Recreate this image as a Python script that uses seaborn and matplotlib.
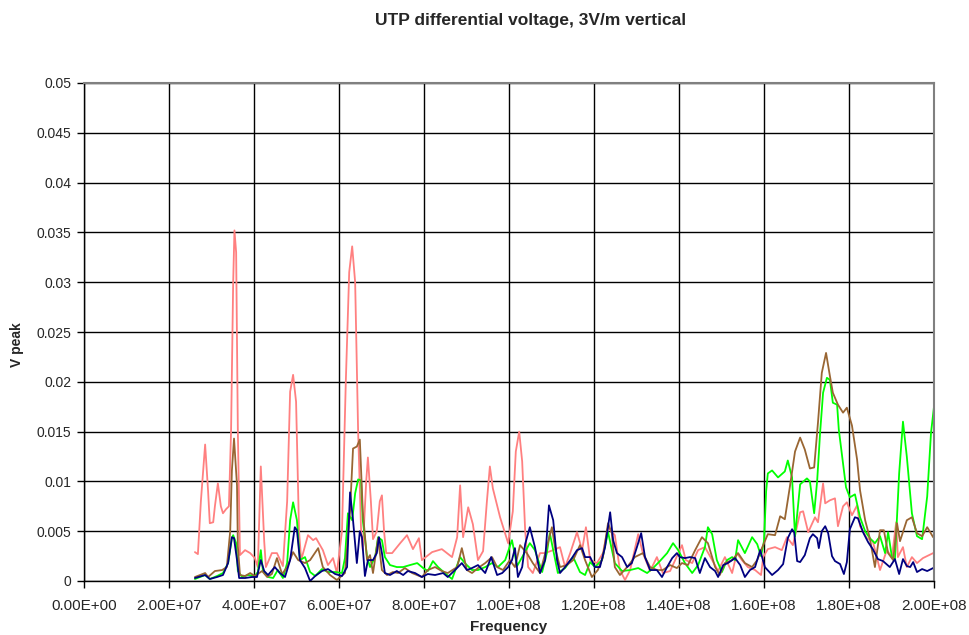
import numpy as np
import pandas as pd
import matplotlib
matplotlib.use("Agg")
import matplotlib.pyplot as plt
import seaborn as sns
from matplotlib.ticker import FuncFormatter, MultipleLocator

# Values (frequency in MHz, voltage in mV)
salmon_f = [26.1, 26.8, 27.5, 28.5, 29.2, 29.6, 30.4, 30.8, 31.5, 32.2, 32.7, 33.4, 34.1, 34.6, 35.1, 35.4, 35.8, 36.2, 36.7,
            37.9, 39.1, 40.2, 40.9, 41.6, 42.4, 42.8, 44.2, 45.4, 46.8, 47.8, 48.5, 49.2, 49.9, 50.6, 51.1, 52.7, 53.9, 54.6,
            56.2, 57.4, 58.6, 59.5, 60.7, 61.6, 62.4, 63.1, 63.8, 64.5, 65.2, 65.6, 66.4, 66.8, 67.5, 68.0, 68.9, 69.6, 70.1,
            70.6, 71.1, 72.5, 74.4, 76.0, 77.4, 78.8, 79.5, 81.9, 84.2, 86.6, 87.8, 88.5, 89.2, 90.4, 91.5, 92.7, 93.9, 94.8,
            95.5, 96.2, 97.9, 99.8, 100.9, 101.6, 102.4, 103.1, 103.8, 104.5, 105.6, 107.3, 108.5, 110.4, 112.0, 113.2, 114.4,
            116.0, 117.2, 118.1, 119.1, 120.7, 122.1, 123.3, 124.9, 126.1, 127.3, 128.5, 130.4, 131.5, 133.2, 134.8, 136.2,
            137.9, 139.1, 140.7, 141.6, 143.1, 144.5, 146.1, 147.8, 149.2, 150.8, 152.5, 153.6, 154.8, 156.2, 157.9, 159.3,
            159.8, 160.9, 162.6, 164.2, 165.4, 166.8, 168.5, 169.2, 170.4, 172.0, 172.7, 173.9, 174.4, 175.5, 176.7, 177.4,
            178.6, 179.5, 180.7, 181.9, 182.6, 184.2, 185.6, 187.3, 188.9, 190.1, 191.1, 191.5, 192.7, 193.6, 194.8, 196.0,
            197.4, 199.8]
salmon_v = [2.9, 2.7, 8.0, 13.7, 9.0, 5.8, 5.9, 7.5, 9.8, 7.5, 6.8, 7.2, 7.5, 15.0, 30.0, 35.2, 33.0, 15.0, 2.6,
            3.1, 2.8, 2.3, 1.4, 11.5, 4.0, 1.4, 2.8, 2.8, 1.5, 8.0, 19.0, 20.7, 18.0, 5.0, 2.1, 4.6, 4.1, 4.3,
            3.1, 1.6, 2.3, 0.8, 5.0, 20.0, 31.0, 33.6, 30.0, 15.0, 5.0, 3.1, 10.0, 12.4, 8.0, 4.2, 5.0, 8.0, 8.6,
            5.0, 2.8, 2.8, 3.8, 4.6, 3.2, 4.3, 2.1, 2.9, 3.2, 2.4, 4.4, 9.6, 4.4, 7.4, 5.7, 2.1, 3.0, 8.0,
            11.5, 9.3, 6.4, 3.8, 7.0, 13.0, 15.0, 12.0, 5.1, 1.4, 0.8, 2.8, 2.8, 3.1, 3.4, 1.4, 2.8,
            4.9, 3.1, 5.4, 2.1, 1.8, 2.8, 5.4, 4.6, 1.1, 0.1, 1.1, 4.7, 2.8, 1.0, 2.4, 0.8,
            1.0, 2.1, 3.6, 2.1, 1.8, 3.1, 3.4, 2.1, 1.0, 2.4, 0.8, 2.8, 2.1, 1.4, 1.1, 0.6,
            2.4, 3.2, 3.4, 3.1, 4.4, 3.6, 6.9, 7.0, 4.9, 6.4, 5.9, 9.8, 7.8, 8.1, 8.3, 5.5,
            7.5, 7.9, 6.6, 7.6, 5.5, 4.3, 4.0, 1.1, 3.1, 2.4, 5.9, 2.4, 3.4, 1.4, 2.4, 1.8,
            2.3, 2.8]

brown_f = [26.1, 28.5, 29.2, 30.8, 32.5, 33.6, 34.4, 34.8, 35.3, 36.0, 36.2, 36.7, 37.9, 39.1, 40.2, 41.9, 43.1, 44.2,
           45.4, 46.6, 47.8, 49.2, 50.4, 52.0, 53.2, 55.1, 56.2, 57.9, 59.5, 61.4, 62.6, 63.3, 64.2, 64.9, 65.6, 66.6,
           67.3, 68.0, 69.2, 70.1, 71.3, 72.7, 73.9, 75.5, 77.2, 79.5, 80.9, 82.6, 84.2, 85.6, 87.8, 88.9, 90.1, 91.3,
           92.7, 94.4, 96.0, 97.2, 98.6, 100.2, 101.4, 102.6, 104.2, 105.6, 107.3, 108.9, 110.1, 110.8, 112.0, 113.6,
           115.1, 116.7, 117.9, 119.5, 120.9, 122.1, 123.3, 124.2, 124.9, 126.1, 127.8, 129.6, 131.5, 133.2, 134.8,
           136.2, 137.9, 139.5, 140.7, 142.1, 143.8, 145.4, 146.8, 148.5, 149.6, 150.8, 152.5, 153.9, 155.5, 157.2,
           158.4, 159.5, 160.9, 162.6, 163.8, 164.9, 166.1, 167.3, 168.5, 169.6, 170.8, 171.8, 172.7, 173.6, 174.6,
           175.5, 176.2, 177.4, 178.6, 179.5, 180.7, 181.9, 182.6, 183.8, 184.9, 186.1, 187.3, 188.2, 189.2, 190.4,
           191.3, 192.0, 193.6, 194.8, 196.0, 197.2, 198.4, 199.8]
brown_v = [0.4, 0.8, 0.4, 1.0, 1.1, 1.4, 5.0, 11.1, 14.3, 9.6, 3.5, 0.6, 0.5, 0.8, 0.5, 1.0, 0.4, 0.7,
           2.3, 0.7, 1.4, 2.9, 2.1, 1.8, 2.1, 3.3, 1.4, 0.6, 0.1, 0.8, 7.0, 13.3, 13.5, 14.2, 7.0, 2.1,
           2.6, 0.8, 4.3, 1.1, 0.6, 0.9, 0.8, 1.3, 0.8, 0.4, 1.1, 1.4, 1.0, 0.8, 1.4, 3.3, 1.1, 0.8,
           1.3, 1.8, 2.4, 1.4, 1.1, 2.1, 1.4, 3.6, 2.8, 1.8, 0.8, 3.4, 5.4, 3.4, 1.4, 1.6,
           2.1, 3.6, 2.1, 0.4, 1.1, 2.4, 5.8, 4.8, 1.4, 0.6, 1.4, 2.4, 2.8, 1.4, 1.1,
           1.1, 1.6, 1.3, 1.8, 1.6, 3.1, 4.4, 3.8, 1.4, 0.6, 1.8, 2.1, 2.8, 1.8, 1.4,
           2.1, 3.3, 4.7, 4.6, 6.5, 6.2, 9.5, 13.0, 14.4, 13.2, 11.3, 11.4, 15.9, 20.9, 22.9,
           20.6, 18.9, 17.7, 16.9, 17.4, 15.6, 12.2, 9.1, 6.1, 4.3, 1.4, 5.1, 5.1, 2.8, 2.1,
           5.8, 4.0, 6.1, 6.4, 4.8, 4.5, 5.4, 4.4]

green_f = [26.1, 28.5, 29.6, 31.3, 32.7, 33.9, 34.8, 35.1, 35.8, 36.2, 37.2, 38.6, 40.2, 40.9, 41.6, 42.1, 43.3, 44.5,
           45.6, 46.8, 47.8, 48.5, 49.2, 50.1, 50.8, 52.0, 53.2, 54.4, 56.0, 57.4, 59.1, 60.7, 61.4, 62.1, 63.1, 63.8,
           64.5, 65.2, 65.6, 66.6, 67.3, 68.5, 69.2, 70.1, 70.8, 72.0, 73.6, 75.1, 76.7, 78.4, 79.8, 80.9, 82.1, 83.3,
           84.9, 86.6, 88.5, 89.6, 91.3, 92.7, 94.4, 96.0, 97.4, 99.1, 100.7, 101.9, 103.1, 104.9, 106.1, 107.8, 108.9,
           109.6, 110.4, 111.5, 113.2, 115.1, 116.7, 117.9, 119.1, 120.2, 121.9, 123.3, 124.9, 126.6, 128.5, 130.4,
           132.5, 133.9, 135.5, 137.2, 138.6, 139.8, 141.4, 143.1, 144.5, 146.1, 146.8, 147.8, 148.9, 150.1, 151.3,
           152.5, 153.2, 153.9, 155.5, 157.2, 158.4, 159.3, 160.0, 160.5, 160.9, 161.9, 163.3, 164.9, 165.6, 166.6,
           167.3, 168.0, 168.5, 170.1, 170.8, 171.8, 172.5, 173.2, 173.9, 174.8, 175.5, 176.2, 177.2, 177.6, 178.4,
           179.3, 180.2, 181.4, 182.6, 183.8, 184.9, 186.1, 187.3, 188.5, 189.2, 190.1, 190.8, 191.8, 192.7, 193.6,
           194.8, 196.0, 197.2, 198.4, 199.3, 200.0]
green_v = [0.2, 0.6, 0.2, 0.5, 0.8, 1.8, 4.3, 4.6, 3.8, 1.0, 0.4, 0.6, 0.5, 0.9, 3.1, 1.0, 0.4, 0.3,
           1.1, 0.3, 1.8, 6.1, 7.9, 6.1, 2.1, 2.4, 0.9, 0.5, 1.2, 0.9, 0.9, 0.8, 2.3, 6.8, 6.1, 8.8,
           10.2, 10.1, 6.1, 2.4, 1.4, 2.4, 4.4, 4.1, 2.4, 1.6, 1.4, 1.4, 1.6, 1.8, 1.3, 1.0, 2.0, 1.4,
           0.8, 0.2, 2.4, 1.8, 1.1, 1.1, 1.4, 1.8, 1.4, 2.1, 4.1, 1.5, 2.4, 3.8, 3.1, 0.9, 2.8,
           4.8, 3.1, 0.8, 1.3, 2.4, 0.9, 0.6, 1.9, 1.4, 2.1, 4.9, 1.8, 1.0, 1.1, 1.3,
           0.8, 1.3, 2.0, 2.8, 3.8, 3.1, 1.8, 0.8, 1.6, 3.4, 5.4, 4.7, 2.1, 0.9, 2.1,
           2.4, 2.1, 4.1, 2.8, 4.4, 3.7, 2.5, 4.0, 9.0, 10.8, 11.1, 10.4, 11.0, 12.1, 10.4,
           4.5, 7.5, 9.7, 10.3, 10.0, 6.8, 10.0, 14.9, 18.9, 20.4, 20.2, 17.9, 17.7, 15.2, 12.5,
           9.4, 8.4, 8.7, 6.4, 5.0, 4.3, 3.8, 4.5, 2.8, 4.9, 2.4, 2.1, 10.8, 16.0, 12.5,
           6.8, 4.5, 4.2, 8.5, 14.9, 17.5]

navy_f = [26.1, 28.5, 29.6, 31.3, 32.7, 33.9, 34.8, 35.3, 36.0, 36.5, 37.9, 39.5, 40.7, 41.6, 42.4, 43.3, 44.9, 46.1,
          47.3, 48.5, 49.6, 50.1, 50.8, 52.0, 53.2, 54.4, 56.0, 57.4, 59.1, 60.7, 61.9, 62.6, 63.3, 64.2, 64.9, 65.4,
          66.1, 66.8, 68.0, 68.9, 69.4, 70.1, 70.8, 72.0, 73.6, 75.1, 76.2, 77.9, 79.5, 80.9, 82.6, 84.5, 85.6, 87.3,
          88.9, 90.1, 91.3, 92.7, 94.4, 95.8, 97.2, 98.4, 99.8, 100.7, 101.4, 102.1, 103.1, 103.8, 104.9, 106.1, 107.3,
          108.5, 109.4, 110.4, 111.3, 112.0, 113.2, 114.8, 116.0, 117.2, 117.9, 119.1, 120.2, 121.4, 122.6, 123.8,
          124.5, 125.4, 126.6, 127.8, 128.9, 130.1, 131.1, 132.0, 133.2, 134.8, 136.0, 137.2, 138.4, 139.5, 140.2,
          141.4, 142.6, 143.8, 144.9, 146.1, 147.3, 148.5, 149.2, 150.4, 151.5, 153.2, 154.4, 155.5, 156.7, 157.9,
          159.1, 160.2, 161.9, 163.3, 164.5, 165.6, 166.6, 167.1, 167.8, 168.5, 169.6, 170.8, 171.5, 172.5, 172.9,
          173.6, 174.4, 175.1, 176.0, 176.7, 177.9, 178.8, 179.5, 180.2, 181.4, 182.1, 183.3, 184.5, 185.6, 186.8,
          188.0, 189.6, 190.8, 191.8, 192.7, 193.6, 194.4, 195.1, 196.0, 197.2, 198.4, 199.8]
navy_v = [0.3, 0.6, 0.2, 0.4, 0.6, 1.8, 4.4, 4.3, 2.1, 0.3, 0.3, 0.4, 0.4, 2.1, 1.0, 0.6, 1.4, 0.8,
          0.4, 2.1, 5.4, 5.1, 2.1, 1.3, 0.0, 0.5, 1.0, 1.2, 0.7, 0.5, 1.4, 8.9, 6.1, 1.8, 5.0, 4.4,
          0.5, 2.1, 2.1, 2.8, 4.4, 2.8, 0.8, 0.6, 1.0, 0.6, 1.0, 0.8, 0.4, 0.7, 0.6, 0.8, 0.4, 1.1,
          1.8, 1.1, 1.3, 1.6, 0.8, 2.4, 0.6, 0.8, 1.4, 2.1, 3.3, 0.4, 1.4, 3.7, 5.4, 3.4, 0.8,
          2.1, 7.6, 6.1, 2.1, 0.8, 1.4, 2.3, 3.1, 3.3, 2.4, 2.4, 1.4, 1.4, 3.4, 6.9,
          4.1, 2.8, 2.4, 1.4, 1.8, 3.4, 4.8, 2.4, 1.1, 1.1, 0.4, 1.4, 2.3, 2.8, 2.4,
          2.3, 2.4, 2.3, 0.8, 2.3, 1.4, 1.0, 0.4, 1.6, 1.8, 2.3, 1.6, 0.4, 1.1, 1.4,
          3.1, 1.4, 0.6, 1.1, 1.7, 4.3, 5.2, 4.9, 2.0, 1.9, 2.6, 4.3, 4.7, 4.3, 3.3,
          5.0, 5.5, 4.8, 2.5, 2.0, 1.7, 0.7, 1.9, 5.2, 6.4, 6.3, 4.9, 3.9, 3.2, 2.2,
          2.0, 1.4, 2.2, 0.7, 2.2, 1.5, 1.4, 1.9, 0.9, 1.2, 1.0, 1.3]

series = [("salmon", salmon_f, salmon_v, "#FF8080"),
          ("green", green_f, green_v, "#00FF00"),
          ("brown", brown_f, brown_v, "#996633"),
          ("navy", navy_f, navy_v, "#000080")]

frames = []
for name, f, v, _ in series:
    frames.append(pd.DataFrame({"Frequency": np.array(f) * 1e6,
                                "V peak": np.array(v) / 1000.0,
                                "series": name}))
df = pd.concat(frames, ignore_index=True)
palette = {name: c for name, _, _, c in series}

sns.set_style("white")
plt.rcParams["font.family"] = ["Liberation Sans", "DejaVu Sans"]

fig = plt.figure(figsize=(9.69, 6.35), dpi=100)
ax = fig.add_axes([84 / 969, 1 - 581 / 635, 850 / 969, 498 / 635])

sns.lineplot(data=df, x="Frequency", y="V peak", hue="series", palette=palette,
             estimator=None, sort=False, linewidth=1.3, legend=False, ax=ax)

ax.set_xlim(0, 2e8)
ax.set_ylim(0, 0.05)
ax.xaxis.set_major_locator(MultipleLocator(2e7))
ax.yaxis.set_major_locator(MultipleLocator(0.005))
ax.xaxis.set_major_formatter(FuncFormatter(lambda v, p: f"{v:.2E}"))
ax.yaxis.set_major_formatter(FuncFormatter(lambda v, p: f"{v:g}"))
ax.grid(True, color="black", linewidth=1.0)
ax.set_axisbelow(True)

for s in ["left", "bottom"]:
    ax.spines[s].set_color("black")
    ax.spines[s].set_linewidth(1.0)
for s in ["top", "right"]:
    ax.spines[s].set_color("#808080")
    ax.spines[s].set_linewidth(1.5)

ax.tick_params(axis="both", direction="out", length=5, width=1, color="black",
               left=True, bottom=True)
ax.tick_params(axis="x", labelsize=11, pad=8)
ax.tick_params(axis="y", labelsize=10, pad=4)
ax.set_xlabel("Frequency", fontsize=11, fontweight="bold", va="center")
ax.xaxis.set_label_coords(0.5, (581 - 627) / 498)
ax.set_ylabel("V peak", fontsize=10, fontweight="bold", va="center")
ax.yaxis.set_label_coords((17 - 84) / 850, (581 - 345) / 498)

fig.text(531 / 969, 1 - 20 / 635, "UTP differential voltage, 3V/m vertical",
         ha="center", va="center", fontsize=12.5, fontweight="bold")

fig.savefig("out.png", dpi=100)
